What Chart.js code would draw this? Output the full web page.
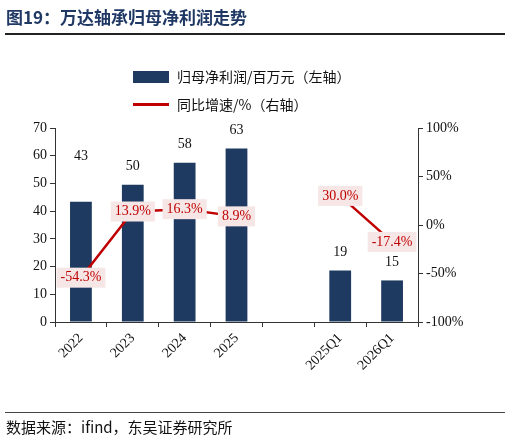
<!DOCTYPE html>
<html><head><meta charset="utf-8">
<script src="https://cdn.jsdelivr.net/npm/chart.js@4/dist/chart.umd.min.js"></script>
<style>
body{margin:0;width:510px;height:445px;background:#fff;position:relative;overflow:hidden;font-family:"Noto Sans CJK SC","Liberation Serif",serif;}
#title{position:absolute;left:6px;top:4px;font-size:17px;font-weight:bold;color:#1F3864;font-family:"Noto Sans CJK SC";}
#tl{position:absolute;left:5px;top:33px;width:500px;border-top:2px solid #222;}
#fl{position:absolute;left:5px;top:412px;width:500px;border-top:1px solid #444;}
#foot{position:absolute;left:6px;top:416px;font-size:15px;color:#111;font-family:"Noto Sans CJK SC";}
#wrap{position:absolute;left:0;top:0;width:510px;height:445px;}
.lg{position:absolute;font-size:14px;color:#111;font-family:"Noto Sans CJK SC";}
</style></head><body>
<div id="wrap"><canvas id="c"></canvas></div>
<div id="title">图19：万达轴承归母净利润走势</div>
<div id="tl"></div>
<div class="lg" style="left:133px;top:66px;"><span style="display:inline-block;width:36px;height:12px;background:#1F3A60;vertical-align:-1px;margin-right:8px"></span>归母净利润/百万元（左轴）</div>
<div class="lg" style="left:133px;top:94px;"><span style="display:inline-block;width:36px;height:3px;background:#C00000;vertical-align:4px;margin-right:8px"></span>同比增速/%（右轴）</div>
<div id="fl"></div>
<div id="foot">数据来源：ifind，东吴证券研究所</div>
<script>
const categories=["2022","2023","2024","2025","","2025Q1","2026Q1"];
const profit=[43.4,49.5,57.5,62.6,null,18.6,15.0];
const profitLabels=["43","50","58","63","","19","15"];
const growth=[-54.3,13.9,16.3,8.9,null,30.0,-17.4];
const growthLabels=["-54.3%","13.9%","16.3%","8.9%","","30.0%","-17.4%"];
const labelPlugin={id:"lbl",afterDatasetsDraw(ch){
  const ctx=ch.ctx;ctx.save();
  ctx.font='14px "Liberation Serif"';ctx.textAlign="center";ctx.textBaseline="middle";
  const m0=ch.getDatasetMeta(0);
  m0.data.forEach((b,i)=>{if(profit[i]==null)return;const off=i===0?45:18;ctx.fillStyle="#111";ctx.fillText(profitLabels[i],b.x,b.y-off);});
  const m1=ch.getDatasetMeta(1);
  m1.data.forEach((p,i)=>{if(growth[i]==null)return;const t=growthLabels[i];const w=ctx.measureText(t).width+8;
    ctx.fillStyle="#F6E6E6";ctx.fillRect(p.x-w/2,p.y-10,w,20);ctx.fillStyle="#C00000";ctx.fillText(t,p.x,p.y);});
  ctx.restore();}};
const tickFont={family:"Liberation Serif",size:14};
new Chart(document.getElementById("c"),{
 data:{labels:categories,datasets:[
  {type:"bar",data:profit,backgroundColor:"#1F3A60",barPercentage:0.42,categoryPercentage:1,yAxisID:"y",order:2},
  {type:"line",data:growth,borderColor:"#C00000",borderWidth:2.5,pointRadius:0,spanGaps:false,yAxisID:"y1",order:1}]},
 options:{responsive:true,maintainAspectRatio:false,animation:false,
  layout:{padding:{top:128,left:12,right:30,bottom:0}},
  plugins:{legend:{display:false},tooltip:{enabled:false}},
  scales:{
   x:{grid:{drawOnChartArea:false,tickLength:5,color:"#333"},border:{color:"#333"},ticks:{maxRotation:45,minRotation:45,color:"#111",font:tickFont},afterFit(s){s.height=123;}},
   y:{position:"left",min:0,max:70,ticks:{stepSize:10,color:"#111",font:tickFont},grid:{drawOnChartArea:false,tickLength:5,color:"#333"},border:{color:"#333"},afterFit(s){s.width=43;}},
   y1:{position:"right",min:-100,max:100,ticks:{stepSize:50,color:"#111",callback:v=>v+"%",font:tickFont},grid:{drawOnChartArea:false,tickLength:5,color:"#333"},border:{color:"#333"},afterFit(s){s.width=62;}}
  }},
 plugins:[labelPlugin]});
</script></body></html>
